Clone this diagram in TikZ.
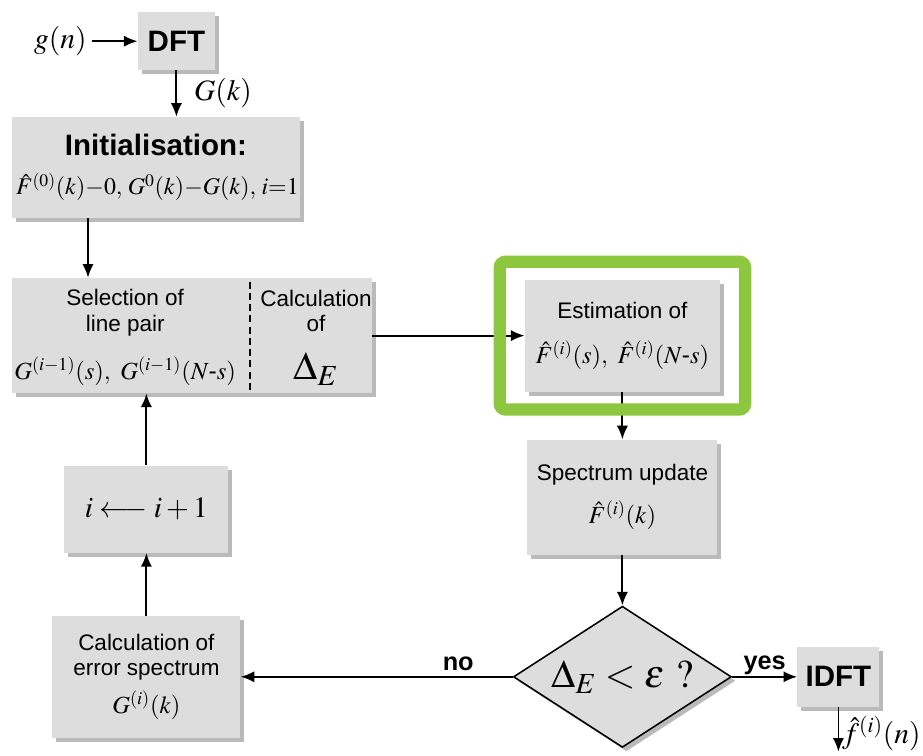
\documentclass[tikz,border=0pt]{standalone}
\usepackage{amsmath}
\usepackage{mathptmx}
\usepackage[no-math]{fontspec}
\setsansfont{Liberation Sans}
\usetikzlibrary{positioning,shapes.geometric,shadows,arrows.meta,fit}
\definecolor{boxgray}{RGB}{221,221,221}
\definecolor{framegreen}{RGB}{141,198,63}

\begin{document}
\begin{tikzpicture}[>={Latex[length=3.4mm,width=2.8mm]},node distance=3cm,on grid,auto,
	every node/.style={font=\sffamily\fontsize{16}{18}\selectfont},
	blk/.style={fill=boxgray,align=center,inner sep=2pt,
		drop shadow={shadow xshift=1mm,shadow yshift=-1mm,fill=black!60,opacity=.45}},
	cond/.style={blk,diamond,draw=black,line width=1.1pt,aspect=1.6,inner sep=0pt,
		minimum width=5.45cm,minimum height=3.53cm},
	head/.style={font=\sffamily\bfseries\fontsize{21}{25}\selectfont},
	ans/.style={font=\sffamily\bfseries\fontsize{18}{21}\selectfont},
	mth/.style={font=\fontsize{21}{25}\selectfont},
	flow/.style={->,line width=1.3pt},
	greenframe/.style={draw=framegreen,line width=3.1mm,rounded corners=1.5mm,
		inner xsep=.62cm,inner ysep=.44cm}]
	\useasboundingbox (0,0) rectangle (23.075,-18.875);
	\node[blk,head,minimum width=1.93cm,minimum height=1.45cm] (dft) at (4.41,-1.03) {DFT};
	\node[mth] (gin) [left=2.9cm of dft] {$g(n)$};
	\node[blk,text width=7cm,minimum width=7.2cm,minimum height=2.53cm] (init) [below left=3.16cm and .51cm of dft]
		{{\bfseries\fontsize{21}{25}\selectfont Initialisation:}\\[10pt]
		{\fontsize{17}{20}\selectfont$\hat{F}^{(0)}(k){-}0,\, G^{0}(k){-}G(k),\, i{=}1$}};
	\node[blk,minimum width=9cm,minimum height=2.88cm] (sel) [below right=4.2cm and .9cm of init] {};
	\node[align=center] (selL) [left=1.67cm of sel,yshift=-.05cm] {Selection of\\line pair\\[14pt]
		{\fontsize{17.5}{20}\selectfont$G^{(i-1)}(s),\ G^{(i-1)}(N\text{-}s)$}};
	\node[align=center] (selR) [right=3.1cm of sel,yshift=-.05cm] {Calculation\\of\\[14pt]
		{\fontsize{28}{30}\selectfont$\Delta_E$}};
	\node[blk,minimum width=4.88cm,minimum height=2.8cm] (est) [right=10.76cm of sel]
		{Estimation of\\[14pt] {\fontsize{17.5}{20}\selectfont$\hat{F}^{(i)}(s),\ \hat{F}^{(i)}(N\text{-}s)$}};
	\node[blk,minimum width=4.75cm,minimum height=2.88cm] (upd) [below=4.04cm of est]
		{Spectrum update\\[10pt] {\fontsize{17.5}{20}\selectfont$\hat{F}^{(i)}(k)$}};
	\node[cond] (dec) [below=4.49cm of upd] {\fontsize{28}{32}\selectfont$\Delta_E<\varepsilon\ ?$};
	\node[blk,head,minimum width=2.05cm,minimum height=1.5cm] (idft) [right=5.4cm of dec] {IDFT};
	\coordinate[below=1.87cm of idft] (out);
	\node[blk,minimum width=4.7cm,minimum height=3.05cm] (err) [left=11.9cm of dec]
		{Calculation of\\error spectrum\\[6pt] {\fontsize{17.5}{20}\selectfont$G^{(i)}(k)$}};
	\node[blk,minimum width=4.1cm,minimum height=2.18cm] (inc) [above=4.19cm of err]
		{\fontsize{21}{25}\selectfont$i\longleftarrow i+1$};
	\draw[dash pattern=on 5pt off 3pt,line width=1.6pt] ([xshift=1.45cm,yshift=-.1cm]sel.north) -- ([xshift=1.45cm,yshift=.05cm]sel.south);
	\path[flow]
	(gin) edge (dft)
	(dft.south) edge node[mth,xshift=.3cm] {$G(k)$} (dft.south |- init.north)
	([xshift=-1.7cm]init.south) edge ([xshift=-1.7cm]init.south |- sel.north)
	(sel.east) edge (sel.east -| est.west)
	(est.south -| upd.north) edge (upd.north)
	(upd) edge (dec)
	(dec) edge node[ans,above,inner sep=1pt] {yes} (idft)
	(dec) edge node[ans,above,pos=.2] {no} (err)
	(err) edge (inc)
	(inc) edge (inc.north |- sel.south)
	(idft) edge node[mth,pos=.6,inner sep=2pt] {$\hat{f}^{(i)}(n)$} (out);
	\node[greenframe,fit=(est)] (estbox) {};
\end{tikzpicture}
\end{document}
